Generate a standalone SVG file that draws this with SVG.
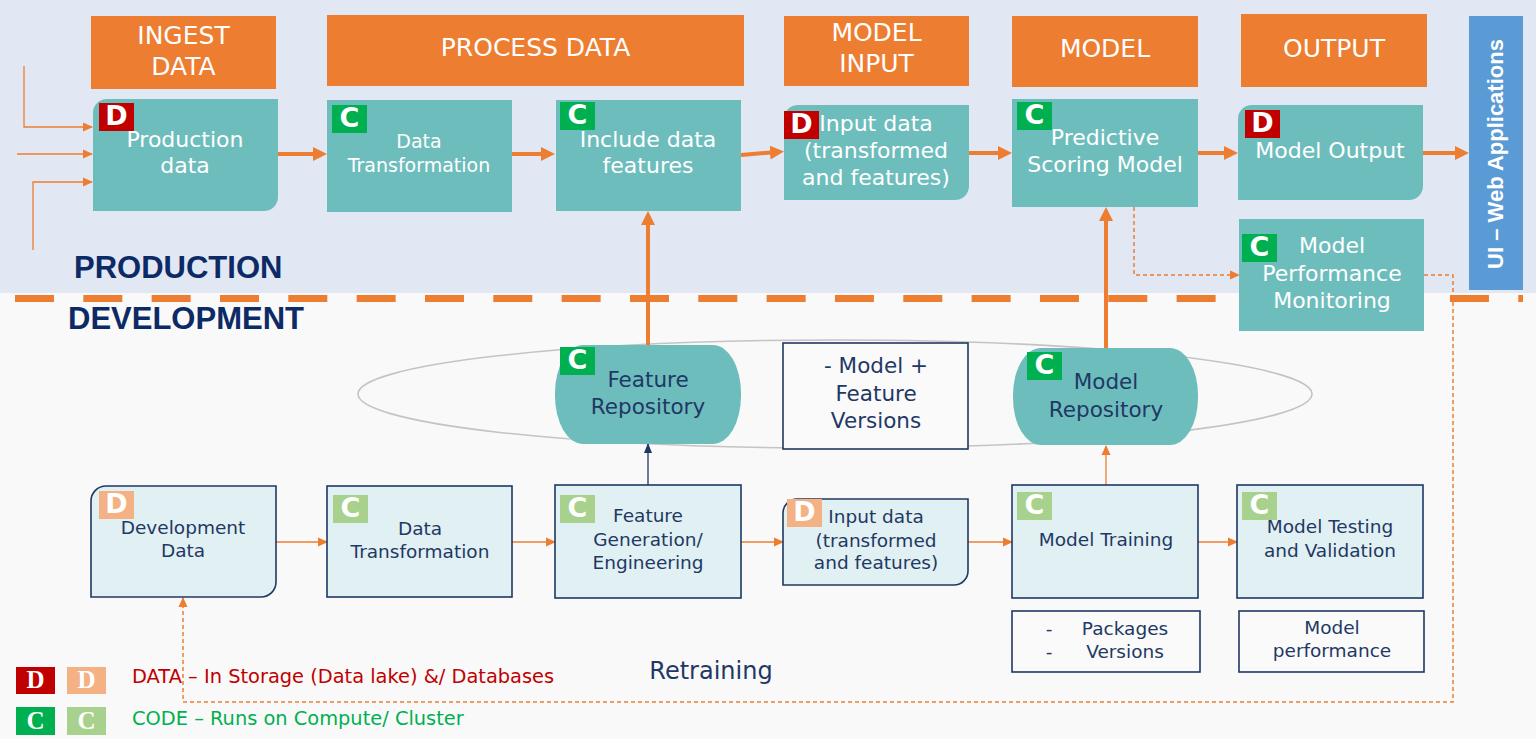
<svg xmlns="http://www.w3.org/2000/svg" width="1536" height="753" viewBox="0 0 1536 753">
<defs>
<style>
.hdr{fill:#ED7D31}
.ht{font-family:'DejaVu Sans',Verdana,sans-serif;font-size:25px;fill:#fff;text-anchor:middle}
.pn{fill:#6EBDBD}
.pt{font-family:'DejaVu Sans',Verdana,sans-serif;font-size:22px;fill:#fff;text-anchor:middle}
.dn{fill:#E1F0F3;stroke:#1F3864;stroke-width:1.6}
.wn{fill:#FAFAFA;stroke:#1F3864;stroke-width:1.6}
.dt{font-family:'DejaVu Sans',Verdana,sans-serif;font-size:18.5px;fill:#1F3864;text-anchor:middle}
.rt{font-family:'DejaVu Sans',Verdana,sans-serif;font-size:21.5px;fill:#1F3864;text-anchor:middle}
.bD{fill:#C00000}.bC{fill:#00B050}.bDl{fill:#F4B183}.bCl{fill:#A9D18E}
.bt{font-family:'DejaVu Sans',Verdana,sans-serif;font-weight:bold;font-size:27px;fill:#fff;text-anchor:middle}
.lt{font-family:'Liberation Serif','Times New Roman',serif;font-weight:bold;font-size:25px;fill:#fff;text-anchor:middle}
.sec{font-family:'Liberation Sans',Arial,sans-serif;font-weight:bold;font-size:31px;fill:#0C2A66}
.thick{fill:none;stroke:#ED7D31;stroke-width:4}
.thin{fill:none;stroke:#ED7D31;stroke-width:1.3}
.dash{fill:none;stroke:#ED7D31;stroke-width:1.5;stroke-dasharray:4 3}
.navy{fill:none;stroke:#1F3864;stroke-width:1.3}
.leg{font-family:'DejaVu Sans',Verdana,sans-serif;font-size:19.4px}
</style>
<marker id="ah" markerUnits="userSpaceOnUse" markerWidth="14" markerHeight="14" refX="4" refY="7" orient="auto"><path d="M0,0 L14,7 L0,14 Z" fill="#ED7D31"/></marker>
<marker id="at" markerUnits="userSpaceOnUse" markerWidth="10" markerHeight="10" refX="9" refY="5" orient="auto"><path d="M0,0.5 L10,5 L0,9.5 Z" fill="#ED7D31"/></marker>
<marker id="an" markerUnits="userSpaceOnUse" markerWidth="10" markerHeight="10" refX="9" refY="5" orient="auto"><path d="M0,1 L10,5 L0,9 Z" fill="#1F3864"/></marker>
</defs>

<!-- backgrounds -->
<rect x="0" y="0" width="1536" height="753" fill="#FFFFFF"/>
<rect x="0" y="0" width="1536" height="293" fill="#E1E7F3"/>
<rect x="0" y="293" width="1536" height="446" fill="#F9F9F9"/>
<line x1="15" y1="298.5" x2="1523" y2="298.5" stroke="#ED7D31" stroke-width="7" stroke-dasharray="39 29.33"/>

<text class="sec" x="74" y="278">PRODUCTION</text>
<text class="sec" x="68" y="329">DEVELOPMENT</text>

<!-- headers -->
<g id="hdr-ingest"><rect class="hdr" x="91" y="16" width="185" height="73"/><text class="ht" x="183.5" y="44">INGEST</text><text class="ht" x="183.5" y="75">DATA</text></g>
<g id="hdr-process"><rect class="hdr" x="327" y="15" width="417" height="71"/><text class="ht" x="535.5" y="56">PROCESS DATA</text></g>
<g id="hdr-modelinput"><rect class="hdr" x="784" y="16" width="185" height="70"/><text class="ht" x="876.5" y="41">MODEL</text><text class="ht" x="876.5" y="72">INPUT</text></g>
<g id="hdr-model"><rect class="hdr" x="1012" y="16" width="186" height="71"/><text class="ht" x="1105" y="57">MODEL</text></g>
<g id="hdr-output"><rect class="hdr" x="1241" y="14" width="186" height="73"/><text class="ht" x="1334" y="57">OUTPUT</text></g>
<g id="ui-web"><rect x="1469" y="16" width="54" height="274" fill="#5B9BD5"/><text transform="translate(1503,154) rotate(-90)" text-anchor="middle" font-family="'Liberation Sans',Arial,sans-serif" font-weight="bold" font-size="22" fill="#fff">UI – Web Applications</text></g>

<!-- ellipse grouping -->
<ellipse cx="835" cy="394" rx="477" ry="54" fill="none" stroke="#C4C4C4" stroke-width="1.6"/>

<!-- connectors -->
<g id="connectors">
<path class="thick" d="M278,154 H317" marker-end="url(#ah)"/>
<path class="thick" d="M512,154 H545" marker-end="url(#ah)"/>
<path class="thick" d="M741,155 L774,152.3" marker-end="url(#ah)"/>
<path class="thick" d="M969,153 H1002" marker-end="url(#ah)"/>
<path class="thick" d="M1198,153 H1228" marker-end="url(#ah)"/>
<path class="thick" d="M1423,153 H1459" marker-end="url(#ah)"/>
<path class="thick" d="M648,345 V221" marker-end="url(#ah)"/>
<path class="thick" d="M1106,348 V217" marker-end="url(#ah)"/>
<path class="thin" d="M24,66 V127 H92" marker-end="url(#at)"/>
<path class="thin" d="M17,154 H92" marker-end="url(#at)"/>
<path class="thin" d="M33,250 V182 H92" marker-end="url(#at)"/>
<path class="thin" d="M276,542 H327" marker-end="url(#at)"/>
<path class="thin" d="M512,542 H555" marker-end="url(#at)"/>
<path class="thin" d="M741,542 H783" marker-end="url(#at)"/>
<path class="thin" d="M968,542 H1012" marker-end="url(#at)"/>
<path class="thin" d="M1198,542 H1237" marker-end="url(#at)"/>
<path class="thin" d="M1106,485 V446" marker-end="url(#at)"/>
<path class="navy" d="M648,485 V444" marker-end="url(#an)"/>
<path class="dash" d="M1134,207 V275 H1239" marker-end="url(#at)"/>
<path class="dash" d="M1424,275 H1453 V702 H183 V598" marker-end="url(#at)"/>
</g>

<!-- production nodes -->
<g id="n-production-data"><path class="pn" d="M107,99 H278 V197 A14,14 0 0 1 264,211 H93 V113 A14,14 0 0 1 107,99 Z"/><rect class="bD" x="99" y="103" width="35" height="28"/><text class="bt" x="116.5" y="124.5">D</text><text class="pt" x="185" y="147">Production</text><text class="pt" x="185" y="173">data</text></g>
<g id="n-data-transformation"><rect class="pn" x="327" y="100" width="185" height="112"/><rect class="bC" x="332" y="105" width="35" height="28"/><text class="bt" x="349.5" y="126.5">C</text><text class="pt" style="font-size:19px" x="419" y="148">Data</text><text class="pt" style="font-size:19px" x="419" y="172">Transformation</text></g>
<g id="n-include-features"><rect class="pn" x="556" y="100" width="185" height="111"/><rect class="bC" x="560" y="102" width="35" height="28"/><text class="bt" x="577.5" y="123.5">C</text><text class="pt" x="648" y="147">Include data</text><text class="pt" x="648" y="173">features</text></g>
<g id="n-input-data"><path class="pn" d="M798,105 H969 V186 A14,14 0 0 1 955,200 H784 V119 A14,14 0 0 1 798,105 Z"/><rect class="bD" x="784" y="111" width="35" height="28"/><text class="bt" x="801.5" y="132.5">D</text><text class="pt" x="876" y="131">Input data</text><text class="pt" x="876" y="158">(transformed</text><text class="pt" x="876" y="185">and features)</text></g>
<g id="n-predictive"><rect class="pn" x="1012" y="99" width="186" height="108"/><rect class="bC" x="1017" y="102" width="35" height="28"/><text class="bt" x="1034.5" y="123.5">C</text><text class="pt" x="1105" y="145">Predictive</text><text class="pt" x="1105" y="172">Scoring Model</text></g>
<g id="n-model-output"><path class="pn" d="M1252,105 H1423 V186 A14,14 0 0 1 1409,200 H1238 V119 A14,14 0 0 1 1252,105 Z"/><rect class="bD" x="1245" y="110" width="35" height="28"/><text class="bt" x="1262.5" y="131.5">D</text><text class="pt" x="1330" y="158">Model Output</text></g>
<g id="n-monitoring"><rect class="pn" x="1239" y="219" width="185" height="112"/><rect class="bC" x="1242" y="234" width="35" height="28"/><text class="bt" x="1259.5" y="255.5">C</text><text class="pt" x="1332" y="253">Model</text><text class="pt" x="1332" y="281">Performance</text><text class="pt" x="1332" y="308">Monitoring</text></g>

<!-- repositories -->
<g id="n-feature-repo"><rect class="pn" x="555" y="345" width="186" height="99" rx="28" ry="48"/><rect class="bC" x="560" y="347" width="35" height="28"/><text class="bt" x="577.5" y="368.5">C</text><text class="rt" x="648" y="387">Feature</text><text class="rt" x="648" y="414">Repository</text></g>
<g id="n-versions"><rect class="wn" x="783" y="343" width="185" height="106"/><text class="rt" x="876" y="373">- Model +</text><text class="rt" x="876" y="401">Feature</text><text class="rt" x="876" y="428">Versions</text></g>
<g id="n-model-repo"><rect class="pn" x="1013" y="348" width="185" height="97" rx="28" ry="47"/><rect class="bC" x="1027" y="352" width="35" height="28"/><text class="bt" x="1044.5" y="373.5">C</text><text class="rt" x="1106" y="389">Model</text><text class="rt" x="1106" y="417">Repository</text></g>

<!-- development nodes -->
<g id="n-dev-data"><path class="dn" d="M106,486 H276 V582 A15,15 0 0 1 261,597 H91 V501 A15,15 0 0 1 106,486 Z"/><rect class="bDl" x="99" y="491" width="35" height="28"/><text class="bt" x="116.5" y="512.5">D</text><text class="dt" x="183" y="534">Development</text><text class="dt" x="183" y="557">Data</text></g>
<g id="n-dev-transform"><rect class="dn" x="327" y="486" width="185" height="111"/><rect class="bCl" x="333" y="495" width="35" height="28"/><text class="bt" x="350.5" y="516.5">C</text><text class="dt" x="420" y="535">Data</text><text class="dt" x="420" y="558">Transformation</text></g>
<g id="n-feature-gen"><rect class="dn" x="555" y="485" width="186" height="113"/><rect class="bCl" x="560" y="495" width="35" height="28"/><text class="bt" x="577.5" y="516.5">C</text><text class="dt" x="648" y="522">Feature</text><text class="dt" x="648" y="546">Generation/</text><text class="dt" x="648" y="569">Engineering</text></g>
<g id="n-dev-input"><path class="dn" d="M797,499 H968 V571 A14,14 0 0 1 954,585 H783 V513 A14,14 0 0 1 797,499 Z"/><rect class="bDl" x="787" y="499" width="35" height="28"/><text class="bt" x="804.5" y="520.5">D</text><text class="dt" x="876" y="523">Input data</text><text class="dt" x="876" y="547">(transformed</text><text class="dt" x="876" y="569">and features)</text></g>
<g id="n-model-training"><rect class="dn" x="1012" y="485" width="186" height="113"/><rect class="bCl" x="1017" y="492" width="35" height="28"/><text class="bt" x="1034.5" y="513.5">C</text><text class="dt" x="1106" y="546">Model Training</text></g>
<g id="n-model-testing"><rect class="dn" x="1237" y="485" width="186" height="113"/><rect class="bCl" x="1242" y="492" width="35" height="28"/><text class="bt" x="1259.5" y="513.5">C</text><text class="dt" x="1330" y="533">Model Testing</text><text class="dt" x="1330" y="557">and Validation</text></g>
<g id="n-packages"><rect class="wn" x="1012" y="611" width="188" height="61"/><text class="dt"><tspan x="1049" y="635">-</tspan><tspan x="1125" y="635">Packages</tspan></text><text class="dt"><tspan x="1049" y="658">-</tspan><tspan x="1125" y="658">Versions</tspan></text></g>
<g id="n-model-performance"><rect class="wn" x="1239" y="611" width="185" height="61"/><text class="dt" x="1332" y="634">Model</text><text class="dt" x="1332" y="657">performance</text></g>

<text x="711" y="679" font-family="'DejaVu Sans',Verdana,sans-serif" font-size="24" fill="#1F3864" text-anchor="middle">Retraining</text>

<!-- legend -->
<g id="legend">
<rect class="bD" x="16" y="667" width="39" height="27"/><text class="lt" x="35.5" y="688">D</text>
<rect class="bDl" x="67" y="667" width="39" height="27"/><text class="lt" x="86.5" y="688">D</text>
<rect class="bC" x="16" y="707" width="39" height="28"/><text class="lt" x="35.5" y="729">C</text>
<rect class="bCl" x="67" y="707" width="39" height="28"/><text class="lt" x="86.5" y="729">C</text>
<text class="leg" x="132" y="683" fill="#C00000">DATA – In Storage (Data lake) &amp;/ Databases</text>
<text class="leg" x="132" y="725" fill="#00B050">CODE – Runs on Compute/ Cluster</text>
</g>
</svg>
